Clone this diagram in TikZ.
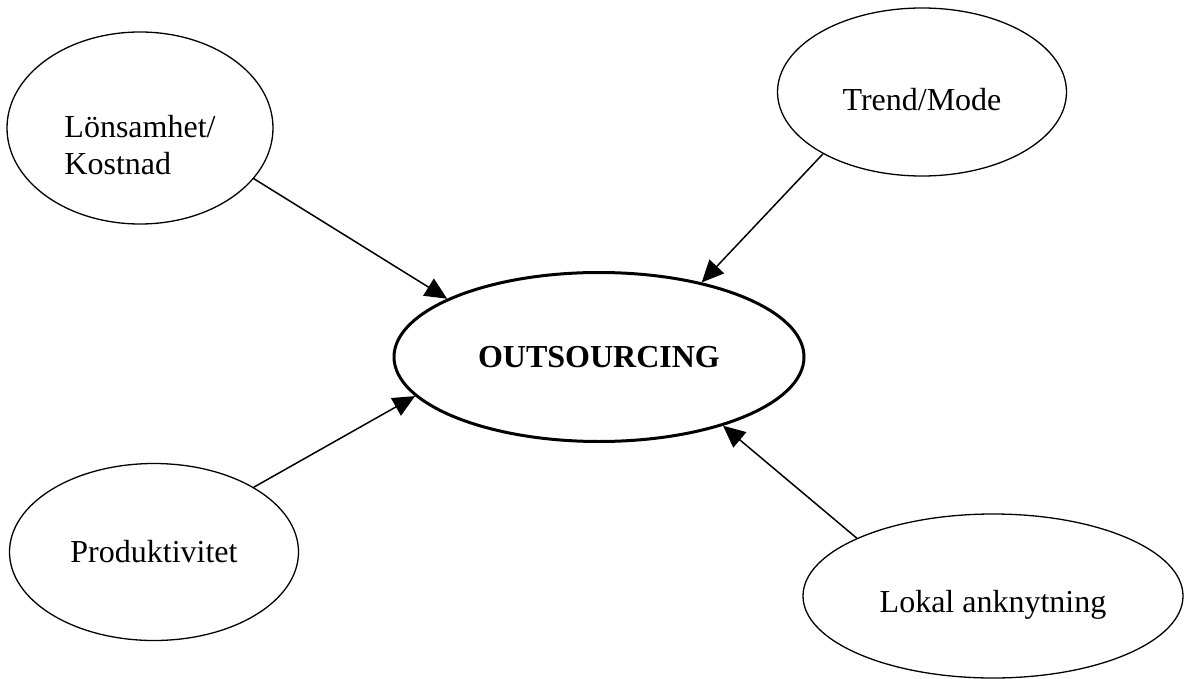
\documentclass[tikz,border=0pt]{standalone}
\usepackage{fontspec}
\setmainfont{Liberation Serif}
\usetikzlibrary{arrows.meta,shapes.geometric}
\tikzset{
  bubble/.style={draw, ellipse, line width=1.3pt, inner sep=0pt, align=center,
                 font=\fontsize{32}{37}\selectfont},
  core/.style={bubble, line width=3pt, font=\fontsize{32}{37}\selectfont\bfseries},
  pil/.style={line width=1.5pt, -{Triangle[length=22pt,width=20pt]}}
}
\begin{document}
\begin{tikzpicture}[x=1pt,y=-1pt]
    \useasboundingbox (0,0) rectangle (1185,679);
    \node[bubble, align=left, minimum width=266pt, minimum height=192pt] (lon) at (140,128)
         {\rule{0pt}{56pt}Lönsamhet/\\Kostnad};
    \node[bubble, minimum width=289pt, minimum height=168pt] (trend) at (922,92)
         {\rule{0pt}{38pt}Trend/Mode};
    \node[core, minimum width=410pt, minimum height=169pt] (out) at (599,357) {OUTSOURCING};
    \node[bubble, minimum width=289pt, minimum height=177pt] (prod) at (154,552) {Produktivitet};
    \node[bubble, minimum width=380pt, minimum height=164pt] (lok) at (993,596)
         {\rule{0pt}{40pt}Lokal anknytning};
    % arrows into the centre
    \draw[pil] (lon.-24) -- (out.159);
    \draw[pil] (trend.212) -- (out.36);
    \draw[pil] (prod.33) -- (out.192);
    \draw[pil] (lok.157) -- (out.-29);
  \end{tikzpicture}
\end{document}
